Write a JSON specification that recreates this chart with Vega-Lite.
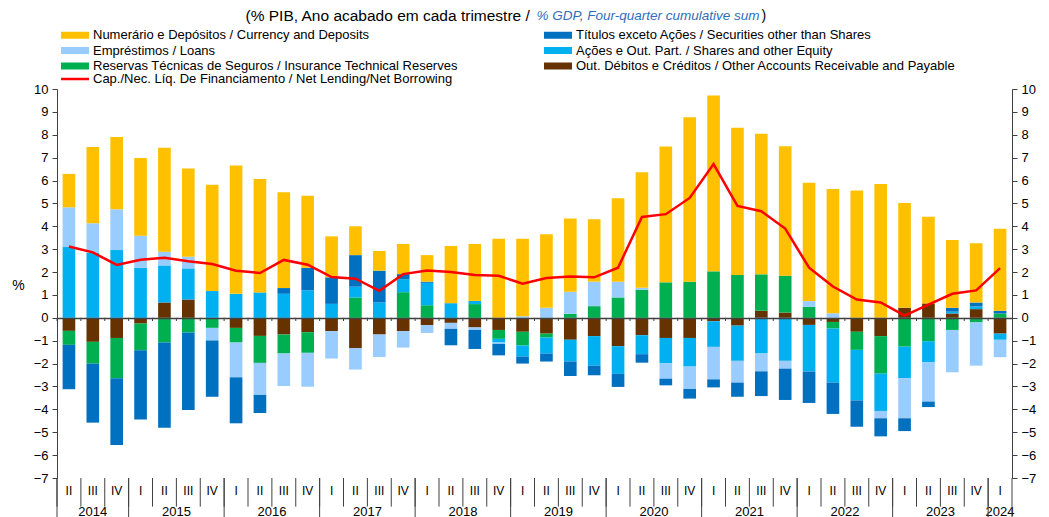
{
  "$schema": "https://vega.github.io/schema/vega-lite/v6.json",
  "width": 955,
  "height": 389,
  "autosize": {"type": "none"},
  "padding": {"left": 57, "top": 89, "right": 37, "bottom": 39},
  "background": "white",
  "config": {"font": "Liberation Sans", "view": {"stroke": null}, "axis": {"grid": false}},
  "data": {"values": [
    {"q": "2014 II", "s1_oth": -0.57, "s2_ins": -0.61, "s3_sha": 3.09, "s4_loa": 1.74, "s5_sec": -1.94, "s6_cur": 1.46, "nl": 3.12},
    {"q": "2014 III", "s1_oth": -1.05, "s2_ins": -0.95, "s3_sha": 2.83, "s4_loa": 1.30, "s5_sec": -2.58, "s6_cur": 3.33, "nl": 2.86},
    {"q": "2014 IV", "s1_oth": -0.88, "s2_ins": -1.76, "s3_sha": 2.96, "s4_loa": 1.78, "s5_sec": -2.92, "s6_cur": 3.16, "nl": 2.31},
    {"q": "2015 I", "s1_oth": -0.25, "s2_ins": -1.17, "s3_sha": 2.19, "s4_loa": 1.40, "s5_sec": -3.02, "s6_cur": 3.40, "nl": 2.54},
    {"q": "2015 II", "s1_oth": 0.67, "s2_ins": -1.08, "s3_sha": 1.62, "s4_loa": 0.60, "s5_sec": -3.72, "s6_cur": 4.54, "nl": 2.63},
    {"q": "2015 III", "s1_oth": 0.80, "s2_ins": -0.64, "s3_sha": 1.36, "s4_loa": 0.51, "s5_sec": -3.39, "s6_cur": 3.86, "nl": 2.47},
    {"q": "2015 IV", "s1_oth": 0.0, "s2_ins": -0.44, "s3_sha": 1.17, "s4_loa": -0.55, "s5_sec": -2.46, "s6_cur": 4.65, "nl": 2.35},
    {"q": "2016 I", "s1_oth": -0.44, "s2_ins": -0.64, "s3_sha": 1.05, "s4_loa": -1.52, "s5_sec": -2.01, "s6_cur": 5.61, "nl": 2.06},
    {"q": "2016 II", "s1_oth": -0.79, "s2_ins": -1.18, "s3_sha": 1.11, "s4_loa": -1.40, "s5_sec": -0.79, "s6_cur": 4.96, "nl": 1.96},
    {"q": "2016 III", "s1_oth": -0.73, "s2_ins": -0.83, "s3_sha": 1.05, "s4_loa": -1.42, "s5_sec": 0.25, "s6_cur": 4.19, "nl": 2.53},
    {"q": "2016 IV", "s1_oth": -0.63, "s2_ins": -0.90, "s3_sha": 1.20, "s4_loa": -1.48, "s5_sec": 0.99, "s6_cur": 3.14, "nl": 2.32},
    {"q": "2017 I", "s1_oth": -0.58, "s2_ins": 0.0, "s3_sha": 0.61, "s4_loa": -1.20, "s5_sec": 1.16, "s6_cur": 1.79, "nl": 1.78},
    {"q": "2017 II", "s1_oth": -1.33, "s2_ins": 0.89, "s3_sha": 0.47, "s4_loa": -0.93, "s5_sec": 1.38, "s6_cur": 1.26, "nl": 1.71},
    {"q": "2017 III", "s1_oth": -0.73, "s2_ins": 0.0, "s3_sha": 0.67, "s4_loa": -0.98, "s5_sec": 1.39, "s6_cur": 0.86, "nl": 1.18},
    {"q": "2017 IV", "s1_oth": -0.58, "s2_ins": 1.12, "s3_sha": 0.57, "s4_loa": -0.72, "s5_sec": 0.22, "s6_cur": 1.32, "nl": 1.91},
    {"q": "2018 I", "s1_oth": -0.32, "s2_ins": 0.55, "s3_sha": 0.98, "s4_loa": -0.34, "s5_sec": 0.05, "s6_cur": 1.16, "nl": 2.07},
    {"q": "2018 II", "s1_oth": -0.22, "s2_ins": 0.0, "s3_sha": 0.64, "s4_loa": -0.26, "s5_sec": -0.72, "s6_cur": 2.50, "nl": 2.00},
    {"q": "2018 III", "s1_oth": -0.42, "s2_ins": 0.60, "s3_sha": 0.14, "s4_loa": -0.11, "s5_sec": -0.83, "s6_cur": 2.49, "nl": 1.87},
    {"q": "2018 IV", "s1_oth": -0.53, "s2_ins": -0.39, "s3_sha": -0.16, "s4_loa": -0.06, "s5_sec": -0.50, "s6_cur": 3.46, "nl": 1.84},
    {"q": "2019 I", "s1_oth": -0.61, "s2_ins": -0.60, "s3_sha": -0.48, "s4_loa": 0.07, "s5_sec": -0.31, "s6_cur": 3.39, "nl": 1.49},
    {"q": "2019 II", "s1_oth": -0.69, "s2_ins": -0.17, "s3_sha": -0.70, "s4_loa": 0.44, "s5_sec": -0.35, "s6_cur": 3.21, "nl": 1.74},
    {"q": "2019 III", "s1_oth": -0.96, "s2_ins": 0.18, "s3_sha": -0.95, "s4_loa": 0.96, "s5_sec": -0.63, "s6_cur": 3.20, "nl": 1.81},
    {"q": "2019 IV", "s1_oth": -0.80, "s2_ins": 0.51, "s3_sha": -1.29, "s4_loa": 1.07, "s5_sec": -0.42, "s6_cur": 2.73, "nl": 1.77},
    {"q": "2020 I", "s1_oth": -1.24, "s2_ins": 0.89, "s3_sha": -1.21, "s4_loa": 0.69, "s5_sec": -0.57, "s6_cur": 3.65, "nl": 2.19},
    {"q": "2020 II", "s1_oth": -0.76, "s2_ins": 1.23, "s3_sha": -0.83, "s4_loa": 0.08, "s5_sec": -0.37, "s6_cur": 5.05, "nl": 4.41},
    {"q": "2020 III", "s1_oth": -0.88, "s2_ins": 1.55, "s3_sha": -1.11, "s4_loa": -0.67, "s5_sec": -0.29, "s6_cur": 5.94, "nl": 4.53},
    {"q": "2020 IV", "s1_oth": -0.88, "s2_ins": 1.58, "s3_sha": -1.25, "s4_loa": -0.98, "s5_sec": -0.42, "s6_cur": 7.19, "nl": 5.24},
    {"q": "2021 I", "s1_oth": -0.15, "s2_ins": 2.03, "s3_sha": -1.12, "s4_loa": -1.42, "s5_sec": -0.35, "s6_cur": 7.69, "nl": 6.72},
    {"q": "2021 II", "s1_oth": -0.34, "s2_ins": 1.87, "s3_sha": -1.54, "s4_loa": -0.95, "s5_sec": -0.62, "s6_cur": 6.44, "nl": 4.89},
    {"q": "2021 III", "s1_oth": 0.31, "s2_ins": 1.59, "s3_sha": -1.56, "s4_loa": -0.78, "s5_sec": -1.08, "s6_cur": 6.14, "nl": 4.66},
    {"q": "2021 IV", "s1_oth": 0.23, "s2_ins": 1.61, "s3_sha": -1.88, "s4_loa": -0.34, "s5_sec": -1.37, "s6_cur": 5.66, "nl": 3.90},
    {"q": "2022 I", "s1_oth": -0.31, "s2_ins": 0.48, "s3_sha": -2.04, "s4_loa": 0.25, "s5_sec": -1.37, "s6_cur": 5.17, "nl": 2.19},
    {"q": "2022 II", "s1_oth": -0.18, "s2_ins": -0.29, "s3_sha": -2.36, "s4_loa": 0.20, "s5_sec": -1.37, "s6_cur": 5.43, "nl": 1.37},
    {"q": "2022 III", "s1_oth": -0.61, "s2_ins": -0.79, "s3_sha": -2.21, "s4_loa": 0.0, "s5_sec": -1.15, "s6_cur": 5.56, "nl": 0.80},
    {"q": "2022 IV", "s1_oth": -0.80, "s2_ins": -1.64, "s3_sha": -1.63, "s4_loa": -0.32, "s5_sec": -0.79, "s6_cur": 5.85, "nl": 0.67},
    {"q": "2023 I", "s1_oth": 0.44, "s2_ins": -1.26, "s3_sha": -1.38, "s4_loa": -1.75, "s5_sec": -0.56, "s6_cur": 4.58, "nl": 0.10},
    {"q": "2023 II", "s1_oth": 0.63, "s2_ins": -1.02, "s3_sha": -0.92, "s4_loa": -1.72, "s5_sec": -0.24, "s6_cur": 3.79, "nl": 0.58},
    {"q": "2023 III", "s1_oth": 0.19, "s2_ins": -0.53, "s3_sha": 0.08, "s4_loa": -1.85, "s5_sec": 0.17, "s6_cur": 2.96, "nl": 1.05},
    {"q": "2023 IV", "s1_oth": 0.38, "s2_ins": -0.20, "s3_sha": 0.12, "s4_loa": -1.89, "s5_sec": 0.17, "s6_cur": 2.59, "nl": 1.20},
    {"q": "2024 I", "s1_oth": -0.69, "s2_ins": 0.19, "s3_sha": -0.27, "s4_loa": -0.76, "s5_sec": 0.12, "s6_cur": 3.58, "nl": 2.17}
  ]},
  "layer": [
    {
      "transform": [{"fold": ["s1_oth", "s2_ins", "s3_sha", "s4_loa", "s5_sec", "s6_cur"], "as": ["c", "v"]}],
      "mark": {"type": "bar", "width": {"band": 0.53}},
      "encoding": {
        "x": {
          "field": "q", "type": "ordinal",
          "scale": {"paddingInner": 0, "paddingOuter": 0},
          "axis": {
            "orient": "bottom",
            "title": "(% PIB, Ano acabado em cada trimestre /",
            "titleX": 188, "titleY": -463, "titleAlign": "left", "titleBaseline": "middle",
            "titleFontSize": 15.5, "titleFontWeight": "normal", "titleColor": "#000000",
            "labelExpr": "split(datum.value, ' ')[1]",
            "labelAngle": 0, "labelFontSize": 12, "labelColor": "#000000", "labelPadding": 7,
            "ticks": false, "domain": false
          }
        },
        "y": {
          "field": "v", "type": "quantitative", "stack": "zero",
          "scale": {"domain": [-7, 10], "nice": false},
          "axis": {
            "orient": "left",
            "values": [-7, -6, -5, -4, -3, -2, -1, 0, 1, 2, 3, 4, 5, 6, 7, 8, 9, 10],
            "title": "%", "titleAngle": 0, "titleX": -39, "titleY": 196,
            "titleAlign": "center", "titleBaseline": "middle", "titleFontSize": 14,
            "titleFontWeight": "normal", "titleColor": "#000000",
            "labelFontSize": 13, "labelColor": "#000000", "labelPadding": 4,
            "tickSize": 5, "tickColor": "#404040", "domainColor": "#404040"
          }
        },
        "color": {
          "field": "c", "type": "nominal",
          "scale": {
            "domain": ["s6_cur", "s4_loa", "s2_ins", "s5_sec", "s3_sha", "s1_oth"],
            "range": ["#FFC000", "#99CCFF", "#00B050", "#0070C0", "#00B0F0", "#663300"]
          },
          "legend": {
            "orient": "none", "legendX": 1, "legendY": -60.5, "columns": 2, "columnPadding": 83,
            "rowPadding": 1.5, "padding": 0, "title": null,
            "symbolType": "M-1,-1H7V1H-1Z", "symbolSize": 49, "symbolStrokeWidth": 0,
            "labelOffset": 22, "labelFontSize": 13, "labelColor": "#000000", "labelLimit": 700,
            "labelExpr": "{'s6_cur':'Numerário e Depósitos / Currency and Deposits','s5_sec':'Títulos exceto Ações / Securities other than Shares','s4_loa':'Empréstimos / Loans','s3_sha':'Ações e Out. Part. / Shares and other Equity','s2_ins':'Reservas Técnicas de Seguros / Insurance Technical Reserves','s1_oth':'Out. Débitos e Créditos / Other Accounts Receivable and Payable'}[datum.value]"
          }
        },
        "order": {"field": "c", "type": "nominal"}
      }
    },
    {
      "mark": {"type": "line", "strokeWidth": 2.5},
      "encoding": {
        "x": {
          "field": "q", "type": "ordinal",
          "axis": {
            "orient": "bottom",
            "values": ["2014 III", "2015 II", "2016 II", "2017 II", "2018 II", "2019 II", "2020 II", "2021 II", "2022 II", "2023 II", "2024 I"],
            "labelExpr": "split(datum.value, ' ')[0]",
            "labelOffset": {"condition": {"test": "datum.value === '2014 III' || datum.value === '2024 I'", "value": 0}, "value": 12},
            "labelAngle": 0, "labelFontSize": 13, "labelColor": "#000000", "labelPadding": 27,
            "ticks": false, "domain": false, "title": null
          }
        },
        "y": {
          "field": "nl", "type": "quantitative",
          "axis": {
            "orient": "right",
            "values": [-7, -6, -5, -4, -3, -2, -1, 0, 1, 2, 3, 4, 5, 6, 7, 8, 9, 10],
            "title": "% GDP, Four-quarter cumulative sum", "titleAngle": 0, "titleX": -476, "titleY": -74,
            "titleAlign": "left", "titleBaseline": "middle", "titleFontSize": 13.5,
            "titleFontWeight": "normal", "titleFontStyle": "italic", "titleColor": "#2F6EBA",
            "labelFontSize": 13, "labelColor": "#000000", "labelPadding": 4,
            "tickSize": 5, "tickColor": "#404040", "domainColor": "#404040"
          }
        },
        "stroke": {
          "datum": "Cap./Nec. Líq. De Financiamento / Net Lending/Net Borrowing",
          "type": "nominal",
          "scale": {"range": ["#FF0000"]},
          "legend": {
            "orient": "none", "legendX": 1, "legendY": -16.5, "padding": 0, "title": null,
            "symbolType": "M-1,0H7", "symbolSize": 49, "symbolStrokeWidth": 2.5,
            "labelOffset": 22, "labelFontSize": 13, "labelColor": "#000000", "labelLimit": 700
          }
        }
      }
    },
    {
      "mark": {"type": "point", "opacity": 0},
      "encoding": {
        "x": {
          "field": "q", "type": "ordinal",
          "axis": {
            "orient": "bottom", "offset": -160, "labels": false, "ticks": false,
            "domain": true, "domainColor": "#404040", "domainWidth": 1.5, "zindex": 1,
            "title": ")", "titleX": 704, "titleY": -303, "titleAlign": "left", "titleBaseline": "middle",
            "titleFontSize": 14, "titleFontWeight": "normal", "titleColor": "#000000"
          }
        },
        "y": {"field": "nl", "type": "quantitative", "axis": null}
      }
    },
    {
      "mark": {"type": "rule", "color": "#404040", "strokeWidth": 1, "clip": false},
      "encoding": {
        "x": {"field": "q", "type": "ordinal", "bandPosition": 0, "axis": null},
        "y": {"datum": 0, "axis": null},
        "y2": {"datum": -0.14}
      }
    },
    {
      "mark": {"type": "rule", "color": "#404040", "strokeWidth": 1, "clip": false},
      "encoding": {
        "x": {"field": "q", "type": "ordinal", "bandPosition": 0, "axis": null},
        "y": {"datum": -7, "axis": null},
        "y2": {"datum": -8.25}
      }
    },
    {
      "transform": [{"filter": "split(datum.q, ' ')[1] === 'I' || datum.q === '2014 II'"}],
      "mark": {"type": "rule", "color": "#404040", "strokeWidth": 1, "clip": false},
      "encoding": {
        "x": {"field": "q", "type": "ordinal", "bandPosition": 0, "axis": null},
        "y": {"datum": -7, "axis": null},
        "y2": {"datum": -8.72}
      }
    },
    {
      "transform": [{"filter": "datum.q === '2024 I'"}],
      "mark": {"type": "rule", "color": "#404040", "strokeWidth": 1, "clip": false},
      "encoding": {
        "x": {"field": "q", "type": "ordinal", "bandPosition": 1, "axis": null},
        "y": {"datum": -7, "axis": null},
        "y2": {"datum": -8.72}
      }
    }
  ],
  "resolve": {"axis": {"x": "independent", "y": "independent"}}
}
